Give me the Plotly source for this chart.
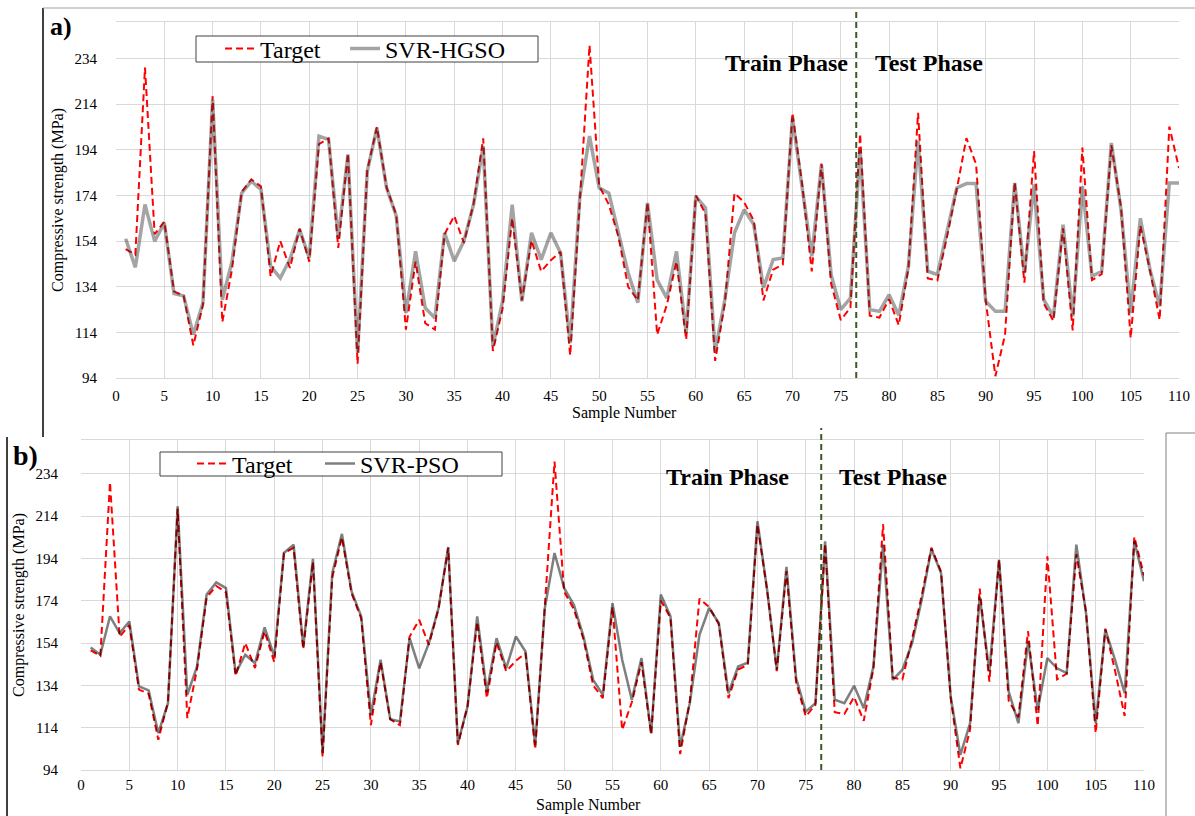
import plotly.graph_objects as go

sample = list(range(1, 111))

target = [150.5, 148, 230, 157, 162.5, 132, 130, 108.3, 126, 217.5,
          118.5, 141.5, 175.5, 181, 178, 138.5, 154, 142.2, 159.5, 145,
          196.5, 199, 151, 192.5, 100.2, 185, 204, 177.5, 165.5, 115.2,
          145, 118, 115.2, 157, 165, 153.2, 170.3, 199, 105.8, 124.3,
          164, 128, 154.3, 140.7, 145.6, 149.3, 103.9, 172, 239.8, 178.2,
          170, 155.8, 134, 128, 171, 113, 126, 145, 110.8, 174,
          166, 101.5, 126.5, 175, 171, 163, 128, 141.5, 143.7, 210.1,
          179, 140.7, 188, 135.4, 119.4, 124.8, 201, 121.3, 120.5, 128.5,
          117.2, 142, 210.2, 137.6, 136.8, 156, 176.6, 199.1, 187.7, 128,
          94.8, 113, 179.8, 135.8, 193.4, 126.7, 119, 159.6, 114.8, 195,
          136.9, 139.5, 196, 168.8, 111.5, 160.8, 141, 119.5, 204.2, 186]

svr_hgso = [155, 142.5, 170, 154, 162, 131, 130, 113, 127, 216,
            128.3, 145, 175, 180.2, 176.6, 143, 137.8, 146, 159, 146.6,
            200, 198.5, 155.4, 192, 105, 184.6, 203.6, 177.3, 165, 122.5,
            149.5, 124.7, 120.3, 157.6, 145.2, 154, 170, 195.6, 107.9, 127.6,
            170, 127.6, 157.6, 145.9, 157.6, 148.8, 109.3, 173.6, 200, 177.3,
            175, 157, 140, 127, 170.7, 137, 129, 149.5, 113.7, 173.6,
            168.5, 105.7, 128.3, 157.6, 167.8, 161.2, 133.5, 145.9, 146.6, 208,
            178, 147.3, 187.5, 139.3, 124, 129, 194.1, 124, 123.2, 130.5,
            121.5, 143, 197.8, 140.8, 139.3, 157.6, 177.3, 179.2, 179.2, 127.6,
            123.2, 123.2, 179.5, 140, 178.8, 128.3, 121, 161.2, 121, 178,
            138.6, 140.8, 197, 167.8, 122.5, 164, 141.5, 125.4, 179.5, 179.5]

svr_pso = [151.9, 148.5, 166.6, 158.7, 164.2, 133.5, 131.6, 111.4, 125.6, 218.7,
           129.5, 142.9, 176.9, 182.7, 180, 139.8, 148.5, 144.5, 161.4, 147.7,
           196.6, 200.5, 152.4, 193.8, 101.9, 187.1, 205.6, 178.4, 166.6, 120,
           146.1, 118, 116.9, 156.3, 142.1, 154, 170.6, 199.4, 106.6, 124,
           166.6, 131, 156.3, 142.1, 157.1, 150, 105.8, 170.6, 196.6, 180,
           172.1, 157.1, 136.6, 129.5, 172.9, 146.1, 127.2, 146.9, 111.4, 176.9,
           166.6, 105, 125.6, 157.9, 170.6, 163.5, 130.3, 142.9, 144.8, 211.6,
           179.2, 141.4, 190, 137.4, 121.6, 125.6, 202.1, 127.2, 125.6, 133.8,
           123.2, 142.9, 200.5, 136.6, 141.4, 154, 174.5, 198.5, 187.1, 128.7,
           101.1, 116.1, 176, 140.6, 193.4, 131, 116.1, 154.8, 122.4, 146.9,
           142.1, 139.8, 200.5, 168.2, 116.1, 160.3, 146.1, 130.3, 202.1, 183.2]

split_sample = 76.6
x_ticks = list(range(0, 111, 5))
y_ticks = [94, 114, 134, 154, 174, 194, 214, 234]

FONT = "Liberation Serif, Times New Roman, serif"
W, H = 1195, 816


def px(x):
    return x / W


def py(y):
    return 1 - y / H


fig = go.Figure()

red_line = dict(color="#ff0000", width=2, dash="7px,4px")
# panel a: target below, model line semi-transparent on top
fig.add_trace(go.Scatter(x=sample, y=target, mode="lines", name="Target", showlegend=True,
                         line=red_line, xaxis="x", yaxis="y", legend="legend"))
fig.add_trace(go.Scatter(x=sample, y=svr_hgso, mode="lines", name="SVR-HGSO", showlegend=True,
                         line=dict(color="rgba(45,45,45,0.43)", width=3.5),
                         xaxis="x", yaxis="y", legend="legend2"))
# panel b
fig.add_trace(go.Scatter(x=sample, y=target, mode="lines", name="Target", showlegend=True,
                         line=red_line, xaxis="x2", yaxis="y2", legend="legend3"))
fig.add_trace(go.Scatter(x=sample, y=svr_pso, mode="lines", name="SVR-PSO", showlegend=True,
                         line=dict(color="rgba(0,0,0,0.5)", width=2.5),
                         xaxis="x2", yaxis="y2", legend="legend4"))

grid = "#d9d9d9"
tickfont = dict(family=FONT, size=15, color="#000")
xcommon = dict(range=[0, 110], tickmode="array", tickvals=x_ticks,
               showgrid=True, gridcolor=grid, gridwidth=1, zeroline=False,
               showline=True, mirror=True, linecolor=grid, linewidth=1,
               ticks="", tickfont=tickfont, automargin=False)
ycommon = dict(range=[94, 250], tickmode="array", tickvals=y_ticks,
               showgrid=True, gridcolor=grid, gridwidth=1, zeroline=False,
               showline=False, ticks="", tickfont=tickfont, automargin=False)

ytitle = dict(text="Compressive strength (MPa)", font=dict(family=FONT, size=16, color="#000"), standoff=6)


def leg(x, y):
    return dict(orientation="h", x=px(x), y=py(y), xanchor="left", yanchor="middle",
                borderwidth=0, bgcolor="rgba(0,0,0,0)",
                font=dict(family=FONT, size=24, color="#000"), itemwidth=30)


fig.update_layout(
    width=W, height=H,
    margin=dict(l=0, r=0, t=0, b=0),
    paper_bgcolor="white", plot_bgcolor="white",
    font=dict(family=FONT, color="#000"),
    showlegend=True,
    xaxis=dict(domain=[px(116), px(1179)], anchor="y", ticklabelstandoff=4, **xcommon),
    yaxis=dict(domain=[py(378), py(22)], anchor="x", title=ytitle,
               ticklabelstandoff=18, **ycommon),
    xaxis2=dict(domain=[px(81), px(1144)], anchor="y2", ticklabelstandoff=1, **xcommon),
    yaxis2=dict(domain=[py(770), py(440)], anchor="x2", title=ytitle,
                ticklabelstandoff=22, **ycommon),
    legend=leg(220, 49),
    legend2=leg(345, 49),
    legend3=leg(192, 464),
    legend4=leg(320, 464),
)

shapes = []
# legend boxes
shapes.append(dict(type="rect", xref="paper", yref="paper", x0=px(196), x1=px(538),
                   y0=py(36), y1=py(62), fillcolor="white", line=dict(color="#404040", width=1)))
shapes.append(dict(type="rect", xref="paper", yref="paper", x0=px(160), x1=px(502),
                   y0=py(452), y1=py(476), fillcolor="white", line=dict(color="#404040", width=1)))
# train/test split lines
shapes.append(dict(type="line", xref="x", yref="y domain", x0=split_sample, x1=split_sample,
                   y0=0, y1=1.039, line=dict(color="#3d5a26", width=2, dash="6px,4px")))
shapes.append(dict(type="line", xref="x2", yref="y2 domain", x0=split_sample, x1=split_sample,
                   y0=0, y1=1.036, line=dict(color="#3d5a26", width=2, dash="6px,4px")))
# panel frames
shapes.append(dict(type="line", xref="paper", yref="paper", x0=px(43), x1=px(43),
                   y0=py(8), y1=py(437), line=dict(color="#000", width=1.5)))
shapes.append(dict(type="line", xref="paper", yref="paper", x0=px(43), x1=1,
                   y0=py(8), y1=py(8), line=dict(color="#a0a0a0", width=1)))
shapes.append(dict(type="line", xref="paper", yref="paper", x0=px(7), x1=px(7),
                   y0=py(437), y1=0, line=dict(color="#000", width=1.5)))
shapes.append(dict(type="line", xref="paper", yref="paper", x0=px(1166), x1=px(1166),
                   y0=py(433), y1=0, line=dict(color="#808080", width=1)))
shapes.append(dict(type="line", xref="paper", yref="paper", x0=px(1166), x1=1,
                   y0=py(433), y1=py(433), line=dict(color="#808080", width=1)))
fig.update_layout(shapes=shapes)

phase_font = dict(family=FONT, size=24, color="#000", weight="bold")
title_font = dict(family=FONT, size=16, color="#000")
ann = [
    dict(text="Train Phase", x=69.4, y=232.2, xref="x", yref="y", showarrow=False, font=phase_font),
    dict(text="Test Phase", x=84.1, y=232.2, xref="x", yref="y", showarrow=False, font=phase_font),
    dict(text="Train Phase", x=66.9, y=232.7, xref="x2", yref="y2", showarrow=False, font=phase_font),
    dict(text="Test Phase", x=84.0, y=232.7, xref="x2", yref="y2", showarrow=False, font=phase_font),
    dict(text="Sample Number", x=px(624), y=py(413), xref="paper", yref="paper",
         xanchor="center", yanchor="middle", showarrow=False, font=title_font),
    dict(text="Sample Number", x=px(588), y=py(805), xref="paper", yref="paper",
         xanchor="center", yanchor="middle", showarrow=False, font=title_font),
    dict(text="a)", x=px(48), y=py(27), xref="paper", yref="paper", xanchor="left", yanchor="middle",
         showarrow=False, font=dict(family=FONT, size=26, color="#000", weight="bold")),
    dict(text="b)", x=px(11), y=py(455), xref="paper", yref="paper", xanchor="left", yanchor="middle",
         showarrow=False, font=dict(family=FONT, size=28, color="#000", weight="bold")),
]
fig.update_layout(annotations=ann)

fig.write_html("out.html")
